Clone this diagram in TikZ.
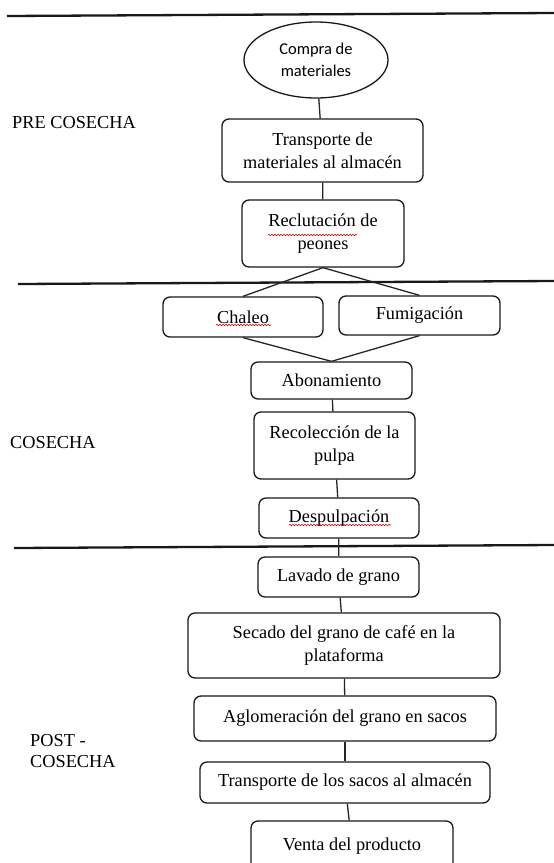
\documentclass[tikz,border=0pt]{standalone}
\usepackage{fontspec}
\setmainfont{Liberation Serif}
\newfontfamily\calib{Carlito}
\usetikzlibrary{shapes.geometric,decorations.pathmorphing}
\begin{document}
\begin{tikzpicture}[x=1pt,y=-1pt,
  stepbox/.style={draw=black!90, line width=1.3pt, rounded corners=7pt, align=center,
    font=\fontsize{18.3}{23}\selectfont, inner sep=0pt, text=black},
  sep/.style={line width=2.3pt, black!90},
  conn/.style={line width=1.3pt, black!85},
  lbl/.style={font=\fontsize{18.3}{21}\selectfont, anchor=west, align=left, text=black, inner sep=0pt},
  squig/.style={red!80!black, line width=0.6pt, decorate, decoration={snake, amplitude=0.7pt, segment length=3pt}}]
\useasboundingbox (0,0) rectangle (554,863);
\clip (0,0) rectangle (554,863);
\fill[white] (0,0) rectangle (554,863);
% separators
\draw[sep] (7,16) -- (554,13);
\draw[sep] (18,284) -- (554,281);
\draw[sep] (14,548) -- (554,545);
% labels
\node[lbl] (lpre) at (12,123) {PRE COSECHA};
\node[lbl] (lcos) at (10,443) {COSECHA};
\node[lbl] (lpost) at (30,751) {POST -\\COSECHA};
% nodes
\node[ellipse, draw=black!90, line width=1.3pt, minimum width=144pt, minimum height=76pt, inner sep=0pt,
  align=center, font=\calib\fontsize{16.5}{21.5}\selectfont, text=black] (cm) at (316,60) {Compra de\\materiales};
\node[stepbox, minimum width=201pt, minimum height=63pt] (t1) at (322.5,150.5) {Transporte de\\materiales al almacén};
\node[stepbox, minimum width=162pt, minimum height=67pt] (rc) at (323,233.5) {Reclutación de\\peones};
\node[stepbox, minimum width=160pt, minimum height=40pt] (ch) at (243,317) {Chaleo};
\node[stepbox, minimum width=161pt, minimum height=39pt] (fu) at (419.5,315.5) {Fumigación};
\node[stepbox, minimum width=161pt, minimum height=37pt] (ab) at (331.5,380.5) {Abonamiento};
\node[stepbox, minimum width=161pt, minimum height=67pt] (re) at (334.5,445.5) {Recolección de la\\pulpa};
\node[stepbox, minimum width=160pt, minimum height=40pt] (de) at (339,518) {Despulpación};
\node[stepbox, minimum width=161pt, minimum height=40pt] (la) at (338.5,577) {Lavado de grano};
\node[stepbox, minimum width=312pt, minimum height=65pt] (se) at (344,645.5) {Secado del grano de café en la\\plataforma};
\node[stepbox, minimum width=302pt, minimum height=45pt] (ag) at (345,718.5) {Aglomeración del grano en sacos};
\node[stepbox, minimum width=290pt, minimum height=41pt] (ts) at (345,782.5) {Transporte de los sacos al almacén};
\node[stepbox, minimum width=202pt, minimum height=50pt] (ve) at (352,846) {Venta del producto};
% connectors
\draw[conn] (cm) -- (t1);
\draw[conn] (t1) -- (rc);
\draw[conn] (rc.south) -- (ch.north);
\draw[conn] (rc.south) -- (fu.north);
\draw[conn] (ch.south) -- (ab.north);
\draw[conn] (fu.south) -- (ab.north);
\draw[conn] (ab) -- (re);
\draw[conn] (re) -- (de);
\draw[conn] (de) -- (la);
\draw[conn] (la) -- (se);
\draw[conn] (se) -- (ag);
\draw[conn] (ag) -- (ts);
\draw[conn] (ts) -- (ve);
% spell-check squiggles
\draw[squig] (268,235) -- (357,235);
\draw[squig] (216,325) -- (271,325);
\draw[squig] (289,525) -- (391,525);
\end{tikzpicture}
\end{document}
